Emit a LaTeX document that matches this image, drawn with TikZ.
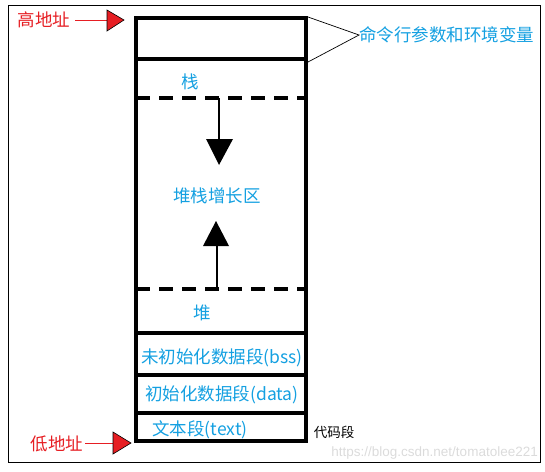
\documentclass[tikz,border=0pt]{standalone}
\usepackage{fontspec}
\setmainfont{Liberation Sans}
\newfontfamily\cjk{Noto Sans CJK SC}
\usetikzlibrary{arrows.meta}
\definecolor{tblue}{RGB}{20,160,225}
\definecolor{tred}{RGB}{230,30,35}
\tikzset{
  wall/.style={line width=4pt, line cap=rect},
  dash4/.style={line width=4pt, dash pattern=on 14pt off 9pt},
  bluetxt/.style={text=tblue, font=\cjk\fontsize{17.5}{20}\selectfont, inner sep=0pt},
  redtxt/.style={text=tred, font=\cjk\fontsize{17.5}{20}\selectfont, inner sep=0pt},
  tri/.style={fill=black},
  redtri/.style={fill=tred, draw=black, line width=0.6pt},
}
\begin{document}
\begin{tikzpicture}[x=1pt,y=-1pt]
\useasboundingbox (0,0) rectangle (545,471);
\draw[line width=1pt] (8,5) rectangle (540,462);
% column
\coordinate (tl) at (136,18);
\coordinate (tr) at (306,18);
\coordinate (bl) at (136,441);
\coordinate (br) at (306,441);
\draw[wall] (tl) -- (tr) -- (br) -- (bl) -- cycle;
\coordinate (l1) at (136,59); \coordinate (r1) at (306,59);
\draw[wall] (l1) -- (r1);
\coordinate (ld1) at (136,98); \coordinate (rd1) at (306,98);
\draw[dash4] (ld1) -- (rd1);
\coordinate (ld2) at (136,289); \coordinate (rd2) at (306,289);
\draw[dash4] (ld2) -- (rd2);
\coordinate (l3) at (136,333); \coordinate (r3) at (306,333);
\draw[wall] (l3) -- (r3);
\coordinate (l4) at (136,375); \coordinate (r4) at (306,375);
\draw[wall] (l4) -- (r4);
\coordinate (l5) at (136,413); \coordinate (r5) at (306,413);
\draw[wall] (l5) -- (r5);
% arrows inside
\coordinate (a1s) at (219,98); \coordinate (a1e) at (219,139);
\draw[line width=2.5pt] (a1s) -- (a1e);
\fill[tri] (206,139) -- (233,139) -- (219,165) -- cycle;
\coordinate (a2s) at (217,289); \coordinate (a2e) at (217,246);
\draw[line width=2.5pt] (a2s) -- (a2e);
\fill[tri] (203,246) -- (229,246) -- (216,221) -- cycle;
% texts
\node[bluetxt] (zhan) at (190,82) {栈};
\node[bluetxt] (grow) at (217,196) {堆栈增长区};
\node[bluetxt] (dui) at (202,313) {堆};
\node[bluetxt] (bss) at (222,358) {未初始化数据段(bss)};
\node[bluetxt] (data) at (222,395) {初始化数据段(data)};
\node[bluetxt] (text) at (200,430) {文本段(text)};
\node[inner sep=0pt, font=\cjk\fontsize{13.5}{15}\selectfont] (code) at (334,432) {代码段};
\node[inner sep=0pt, text=black!14, font=\fontsize{13.5}{15}\selectfont, anchor=east] (wm) at (538,453) {https://blog.csdn.net/tomatolee221};
% callout
\node[bluetxt, anchor=west] (env) at (359,35) {命令行参数和环境变量};
\coordinate (c1) at (308,17);
\coordinate (c2) at (308,62);
\draw[line width=0.7pt] (c1) -- (env.west) -- (c2);
% high address
\node[redtxt] (high) at (44,20) {高地址};
\coordinate (h1) at (75,20);
\coordinate (h2) at (107,20);
\draw[tred, line width=1pt] (h1) -- (h2);
\filldraw[redtri] (107,10) -- (124,20) -- (107,31) -- cycle;
% low address
\node[redtxt] (low) at (57,444) {低地址};
\coordinate (lo1) at (85,443);
\coordinate (lo2) at (113,443);
\draw[tred, line width=1pt] (lo1) -- (lo2);
\filldraw[redtri] (113,432) -- (131,443) -- (113,454) -- cycle;
\end{tikzpicture}
\end{document}
